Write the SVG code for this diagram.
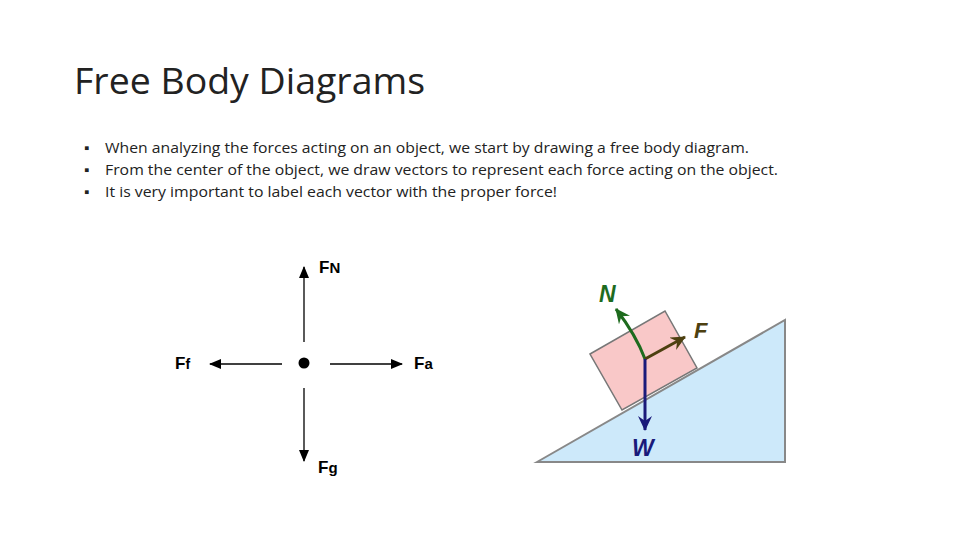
<svg xmlns="http://www.w3.org/2000/svg" width="960" height="540" viewBox="0 0 960 540">
<style>
.t{font-family:"Open Sans","Liberation Sans",sans-serif;fill:#222}
.b{font-family:"Liberation Sans",Arial,sans-serif;font-weight:bold}
.k{stroke:#000;stroke-width:1.3;fill:none;marker-end:url(#ak)}
</style>
<defs>
<marker id="ak" markerWidth="12" markerHeight="10" refX="11" refY="5" orient="auto" markerUnits="userSpaceOnUse"><path d="M0,0L12,5L0,10z" fill="#000"/></marker>
<marker id="ag" markerWidth="16" markerHeight="14" refX="14" refY="7" orient="auto" markerUnits="userSpaceOnUse"><path d="M0,0L15,7L0,14L5,7z" fill="#1e6b1e"/></marker>
<marker id="ab" markerWidth="16" markerHeight="14" refX="14" refY="7" orient="auto" markerUnits="userSpaceOnUse"><path d="M0,0L15,7L0,14L5,7z" fill="#1a1a7a"/></marker>
<marker id="ao" markerWidth="16" markerHeight="14" refX="14" refY="7" orient="auto" markerUnits="userSpaceOnUse"><path d="M0,0L15,7L0,14L5,7z" fill="#4d4010"/></marker>
</defs>
<rect width="960" height="540" fill="#fff"/>
<text class="t" x="74" y="94" font-size="37" textLength="351" lengthAdjust="spacingAndGlyphs">Free Body Diagrams</text>
<g class="t" font-size="15">
<text x="84" y="153">▪</text><text x="105" y="153" textLength="644" lengthAdjust="spacingAndGlyphs">When analyzing the forces acting on an object, we start by drawing a free body diagram.</text>
<text x="84" y="175">▪</text><text x="105" y="175" textLength="673" lengthAdjust="spacingAndGlyphs">From the center of the object, we draw vectors to represent each force acting on the object.</text>
<text x="84" y="197">▪</text><text x="105" y="197" textLength="452" lengthAdjust="spacingAndGlyphs">It is very important to label each vector with the proper force!</text>
</g>
<g id="fbd">
<circle cx="304" cy="363" r="5.5" fill="#000"/>
<g id="connectors">
<path class="k" d="M304,342V267"/>
<path class="k" d="M282,364H210"/>
<path class="k" d="M330,364H402"/>
<path class="k" d="M304,388V461"/>
</g>
<text class="b" x="319" y="273" font-size="17">F<tspan font-size="15">N</tspan></text>
<text class="b" x="175" y="369" font-size="17">F<tspan font-size="14">f</tspan></text>
<text class="b" x="414" y="369" font-size="17">F<tspan font-size="15">a</tspan></text>
<text class="b" x="318" y="473" font-size="17">F<tspan font-size="15">g</tspan></text>
</g>
<g id="incline">
<path d="M537,462L785,320V462z" fill="#cde9fa" stroke="#888" stroke-width="2"/>
<path d="M590,354L665,311L697,368L622,410z" fill="#f9c8c8" stroke="#777" stroke-width="1.5"/>
<path d="M645,359Q636,335 616,309" stroke="#1e6b1e" stroke-width="3" fill="none" marker-end="url(#ag)"/>
<path d="M645,359L685,337" stroke="#4d4010" stroke-width="3" fill="none" marker-end="url(#ao)"/>
<path d="M645,359V430" stroke="#1a1a7a" stroke-width="3" fill="none" marker-end="url(#ab)"/>
<text class="b" x="599" y="302" font-size="23" font-style="italic" fill="#1e6b1e">N</text>
<text class="b" x="694" y="338" font-size="22" font-style="italic" fill="#4d4010">F</text>
<text class="b" x="632" y="456" font-size="23" font-style="italic" fill="#1a1a7a">W</text>
</g>
</svg>
